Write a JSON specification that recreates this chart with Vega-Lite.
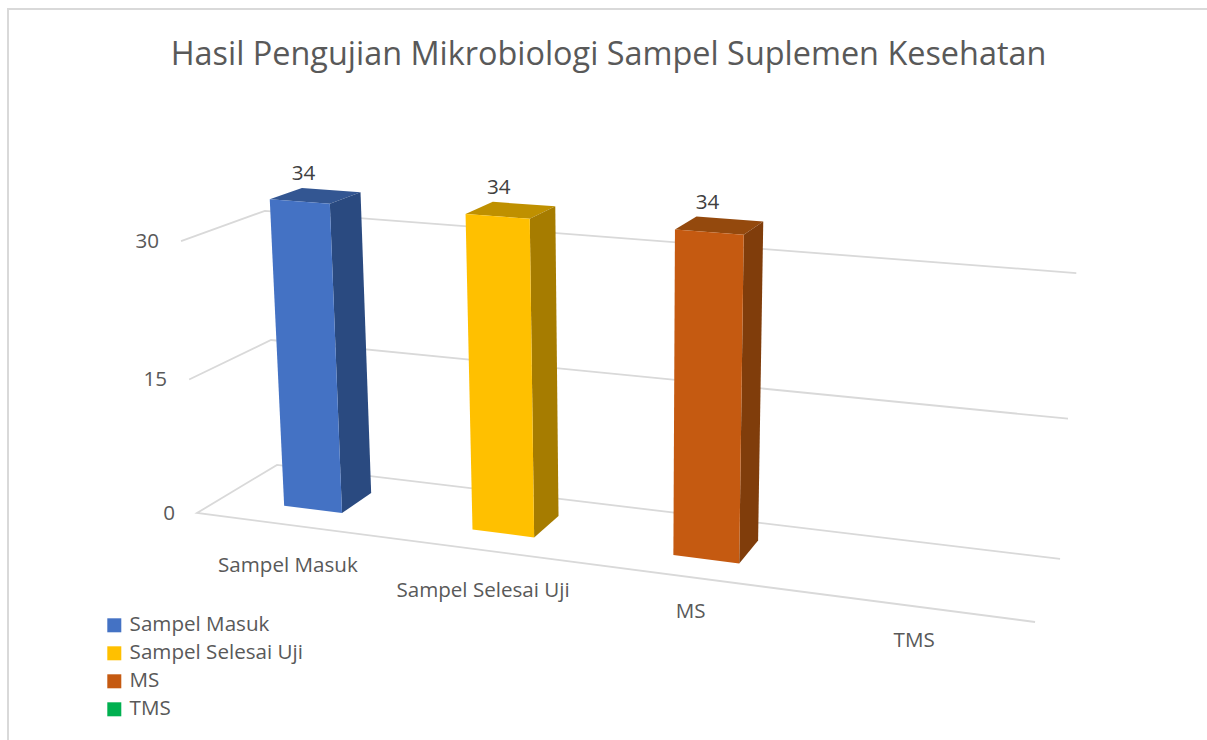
{
"$schema":"https://vega.github.io/schema/vega-lite/v6.json",
"autosize":"none","padding":{"left":8,"top":9,"right":0,"bottom":0},
"width":1201,"height":733,"background":"#ffffff",
"view":{"stroke":"#d9d9d9","strokeWidth":2,"fill":"#ffffff"},
"title":{"text":"Hasil Pengujian Mikrobiologi Sampel Suplemen Kesehatan","anchor":"middle","frame":"group","font":"Open Sans","fontSize":32.4,"fontWeight":"normal","color":"#595959","offset":0,"dy":88,"baseline":"alphabetic"},
"datasets":{
"bars":[{"category":"Sampel Masuk","value":34},{"category":"Sampel Selesai Uji","value":34},{"category":"MS","value":34},{"category":"TMS","value":null}],
"ticks":[{"tick":0},{"tick":15},{"tick":30}]
},
"encoding":{
"x":{"field":"sx","type":"quantitative","scale":{"domain":[8,1209],"nice":false,"zero":false},"axis":null},
"y":{"field":"sy","type":"quantitative","scale":{"domain":[742,9],"nice":false,"zero":false},"axis":null}
},
"resolve":{"scale":{"color":"independent"}},
"layer":[
{"data":{"name":"ticks"},
"transform":[
{"calculate":"datum.tick==0?[0,1,2,3]:[1,2,3]","as":"p"},{"flatten":["p"]},
{"calculate":"[1,0,0,1][datum.p]","as":"uu"},{"calculate":"[0,0,1,1][datum.p]","as":"dd"},{"calculate":"datum.tick/30","as":"vv"},
{"calculate":"1-0.127*datum.uu+0.0743*datum.dd-0.035*datum.vv","as":"w"},
{"calculate":"(197+706.6*datum.uu+100.6*datum.dd-22.3*datum.vv)/datum.w","as":"sx"},
{"calculate":"(513+30*datum.uu-13.5*datum.dd-280.4*datum.vv)/datum.w","as":"sy"}],
"mark":{"type":"line","color":"#d9d9d9","strokeWidth":1.8},
"encoding":{"detail":{"field":"tick"},"order":{"field":"p","type":"quantitative"}}},
{"data":{"name":"ticks"},
"transform":[
{"calculate":"datum.tick/30","as":"vv"},
{"calculate":"1-0.035*datum.vv","as":"w"},
{"calculate":"(197-22.3*datum.vv)/datum.w","as":"sx"},
{"calculate":"(513-280.4*datum.vv)/datum.w","as":"sy"}],
"mark":{"type":"text","font":"Open Sans","fontSize":20.6,"color":"#595959","align":"right","baseline":"middle","dx":-22,"dy":1},
"encoding":{"text":{"field":"tick","type":"quantitative"}}},
{"data":{"name":"bars"},
"transform":[
{"calculate":"(indexof(['Sampel Masuk','Sampel Selesai Uji','MS','TMS'],datum.category)+0.5)/4","as":"uc"},
{"filter":"datum.uc<0.5"},
{"calculate":"1-0.127*datum.uc","as":"w"},
{"calculate":"(197+706.6*datum.uc)/datum.w","as":"sx"},
{"calculate":"(513+30*datum.uc)/datum.w","as":"sy"}],
"mark":{"type":"text","font":"Open Sans","fontSize":20.6,"color":"#595959","align":"center","baseline":"middle","dx":-2,"dy":41},
"encoding":{"text":{"field":"category"}}},
{"data":{"name":"bars"},
"transform":[
{"calculate":"(indexof(['Sampel Masuk','Sampel Selesai Uji','MS','TMS'],datum.category)+0.5)/4","as":"uc"},
{"filter":"datum.uc>0.5"},
{"calculate":"1-0.127*datum.uc","as":"w"},
{"calculate":"(197+706.6*datum.uc)/datum.w","as":"sx"},
{"calculate":"(513+30*datum.uc)/datum.w","as":"sy"}],
"mark":{"type":"text","font":"Open Sans","fontSize":20.6,"color":"#595959","align":"center","baseline":"middle","dx":-3,"dy":34},
"encoding":{"text":{"field":"category"}}},
{"data":{"name":"bars"},
"transform":[
{"filter":"datum.value>0"},
{"calculate":"0.994*(indexof(['Sampel Masuk','Sampel Selesai Uji','MS','TMS'],datum.category)+0.5)/4","as":"uc"},
{"calculate":"datum.value/30","as":"V"},
{"calculate":"['top','side','front']","as":"face"},{"flatten":["face"]},
{"calculate":"[0,1,2,3,4]","as":"corner"},{"flatten":["corner"]},
{"calculate":"datum.uc+0.039*(datum.face=='side'?1:[-1,1,1,-1,-1][datum.corner])","as":"uu"},
{"calculate":"datum.face=='front'?0.3:datum.face=='side'?[0.3,0.7,0.7,0.3,0.3][datum.corner]:[0.3,0.3,0.7,0.7,0.3][datum.corner]","as":"dd"},
{"calculate":"datum.face=='top'?datum.V:[0,0,datum.V,datum.V,0][datum.corner]","as":"vv"},
{"calculate":"1-0.127*datum.uu+0.0743*datum.dd-0.035*datum.vv","as":"w"},
{"calculate":"(197+706.6*datum.uu+100.6*datum.dd-22.3*datum.vv)/datum.w","as":"sx"},
{"calculate":"(513+30*datum.uu-13.5*datum.dd-280.4*datum.vv)/datum.w","as":"sy"}],
"resolve":{"scale":{"color":"independent"}},
"layer":[
{"transform":[{"filter":"datum.face=='top'"}],
"mark":{"type":"line","filled":true,"strokeWidth":0},
"encoding":{"order":{"field":"corner","type":"quantitative"},"color":{"field":"category","type":"nominal","legend":null,"scale":{"domain":["Sampel Masuk","Sampel Selesai Uji","MS","TMS"],"range":["#335692","#BF9000","#94490D","#00843C"]}}}},
{"transform":[{"filter":"datum.face=='side'"}],
"mark":{"type":"line","filled":true,"strokeWidth":0},
"encoding":{"order":{"field":"corner","type":"quantitative"},"color":{"field":"category","type":"nominal","legend":null,"scale":{"domain":["Sampel Masuk","Sampel Selesai Uji","MS","TMS"],"range":["#2A4A80","#A67C00","#803D0B","#007535"]}}}},
{"transform":[{"filter":"datum.face=='front'"}],
"mark":{"type":"line","filled":true,"strokeWidth":0},
"encoding":{"order":{"field":"corner","type":"quantitative"},"color":{"field":"category","type":"nominal","scale":{"domain":["Sampel Masuk","Sampel Selesai Uji","MS","TMS"],"range":["#4472C4","#FFC000","#C55A11","#00B050"]},
"legend":{"title":null,"orient":"none","legendX":96,"legendY":606,"symbolType":"square","symbolSize":196,"symbolStrokeWidth":0,"labelFont":"Open Sans","labelFontSize":20.6,"labelColor":"#595959","labelLimit":400,"rowPadding":7,"labelOffset":5}}}}
]},
{"data":{"name":"bars"},
"transform":[
{"filter":"datum.value>0"},
{"calculate":"0.994*(indexof(['Sampel Masuk','Sampel Selesai Uji','MS','TMS'],datum.category)+0.5)/4","as":"uc"},
{"calculate":"datum.value/30","as":"vv"},
{"calculate":"1-0.127*datum.uc+0.0372-0.035*datum.vv","as":"w"},
{"calculate":"(197+706.6*datum.uc+50.3-22.3*datum.vv)/datum.w","as":"sx"},
{"calculate":"(513+30*datum.uc-6.75-280.4*datum.vv)/datum.w","as":"sy"}],
"mark":{"type":"text","font":"Open Sans","fontSize":20.6,"color":"#404040","align":"center","baseline":"middle","dx":-12,"dy":-22},
"encoding":{"text":{"field":"value","type":"quantitative"}}}
]
}
